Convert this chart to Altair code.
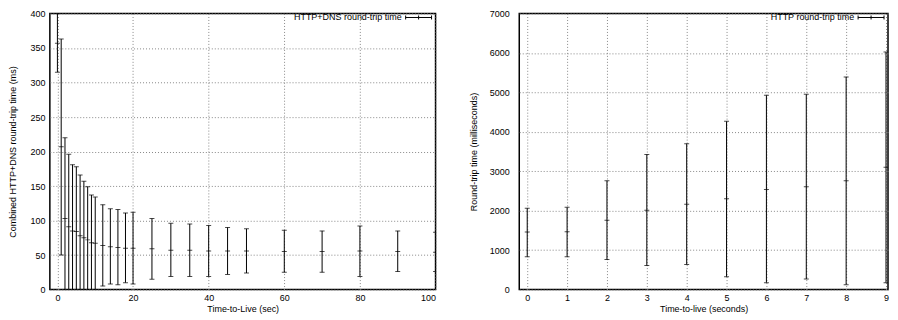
import altair as alt
import pandas as pd

# ---- left panel data: HTTP+DNS round-trip time vs TTL (sec) ----
ttl_l = [0, 1, 2, 3, 4, 5, 6, 7, 8, 9, 10, 12, 14, 16, 18, 20, 25, 30, 35, 40, 45, 50, 60, 70, 80, 90, 100]
mean_l = [357, 207, 103, 91, 85, 84, 78, 75, 72, 68, 67, 64, 62, 61, 60, 60, 59, 57, 57, 56, 56, 56, 55, 55, 56, 55, 54]
high_l = [400, 363, 220, 196, 181, 178, 166, 157, 149, 137, 134, 123, 117, 116, 111, 112, 103, 96, 95, 93, 90, 88, 86, 85, 92, 85, 83]
low_l = [315, 50, -14, -14, -11, -10, -10, -7, -5, -1, -1, 5, 8, 7, 10, 8, 15, 19, 19, 19, 22, 24, 25, 25, 19, 26, 26]

# ---- right panel data: HTTP round-trip time vs TTL (seconds) ----
ttl_r = [0, 1, 2, 3, 4, 5, 6, 7, 8, 9]
mean_r = [1460, 1465, 1760, 2010, 2165, 2300, 2540, 2610, 2760, 3100]
high_r = [2060, 2085, 2760, 3425, 3700, 4265, 4925, 4950, 5390, 6025]
low_r = [835, 835, 760, 610, 635, 325, 175, 265, 125, 175]

legend_l = "HTTP+DNS round-trip time"
legend_r = "HTTP round-trip time"

df_l = pd.DataFrame({"ttl": ttl_l, "mean": mean_l, "high": high_l, "low": low_l})
df_r = pd.DataFrame({"ttl": ttl_r, "mean": mean_r, "high": high_r, "low": low_r})

FONT = "Liberation Sans"
FS = 9


def panel(df, width, height, xdom, xticks, xtitle, ydom, yticks, ytitle, legend_text, ypad):
    xenc = alt.X("ttl:Q", scale=alt.Scale(domain=xdom, nice=False, zero=False),
                 axis=alt.Axis(values=xticks, title=xtitle, format="d", labelPadding=4, titlePadding=2))
    yax = alt.Axis(values=yticks, title=ytitle, format="d", labelPadding=ypad[0], titlePadding=ypad[1])
    yscale = alt.Scale(domain=ydom, nice=False, zero=False)

    def yenc(field):
        return alt.Y(f"{field}:Q", scale=yscale, axis=yax)

    base = alt.Chart(df)
    bars = base.mark_rule(color="black", strokeWidth=1, clip=True).encode(
        x=xenc, y=yenc("low"), y2="high:Q")
    cap_hi = base.mark_tick(color="black", orient="horizontal", size=5, thickness=1, clip=True).encode(
        x=xenc, y=yenc("high"))
    cap_lo = base.mark_tick(color="black", orient="horizontal", size=5, thickness=1, clip=True).encode(
        x=xenc, y=yenc("low"))
    mid = base.mark_tick(color="black", orient="horizontal", size=5, thickness=1, clip=True).encode(
        x=xenc, y=yenc("mean"))

    # legend (key) in the top-right corner
    sx1, sx2, sy = width - 30, width - 4, 4
    ldf = pd.DataFrame({"label": [legend_text]})
    lbase = alt.Chart(ldf)
    ltext = lbase.mark_text(align="right", baseline="middle", fontSize=FS, font=FONT, color="black").encode(
        text="label:N", x=alt.value(sx1 - 4), y=alt.value(sy))
    lline = lbase.mark_rule(color="black", strokeWidth=1).encode(
        x=alt.value(sx1), x2=alt.value(sx2), y=alt.value(sy))
    lcap1 = lbase.mark_rule(color="black", strokeWidth=1).encode(
        x=alt.value(sx1), y=alt.value(sy - 2), y2=alt.value(sy + 2))
    lcap2 = lbase.mark_rule(color="black", strokeWidth=1).encode(
        x=alt.value(sx2), y=alt.value(sy - 2), y2=alt.value(sy + 2))
    lcap3 = lbase.mark_rule(color="black", strokeWidth=1).encode(
        x=alt.value((sx1 + sx2) / 2), y=alt.value(sy - 2), y2=alt.value(sy + 2))

    return alt.layer(bars, cap_hi, cap_lo, mid, ltext, lline, lcap1, lcap2, lcap3).properties(
        width=width, height=height)


left = panel(df_l, 387, 277, [-2, 100], [0, 20, 40, 60, 80, 100], "Time-to-Live (sec)",
             [0, 400], list(range(0, 401, 50)), "Combined HTTP+DNS round-trip time (ms)", legend_l, (5, 12))
right = panel(df_r, 370, 277, [-0.2, 9.05], list(range(10)), "Time-to-live (seconds)",
              [0, 7000], list(range(0, 7001, 1000)), "Round-trip time (milliseconds)", legend_r, (10, 11))

chart = alt.hconcat(left, right, spacing=84, bounds="flush").properties(
    padding={"left": 0, "top": 0, "right": 0, "bottom": 0}
).configure(font=FONT).configure_view(
    stroke="black", strokeWidth=1.5
).configure_axis(
    labelFont=FONT, titleFont=FONT, labelFontSize=FS, titleFontSize=FS,
    labelColor="black", titleColor="black", titleFontWeight="normal",
    ticks=False, domain=False, grid=True, gridColor="#888", gridDash=[1, 2], gridWidth=1,
    labelOverlap=False,
)

chart.save("out.html", embed_options={"renderer": "svg", "actions": False})
